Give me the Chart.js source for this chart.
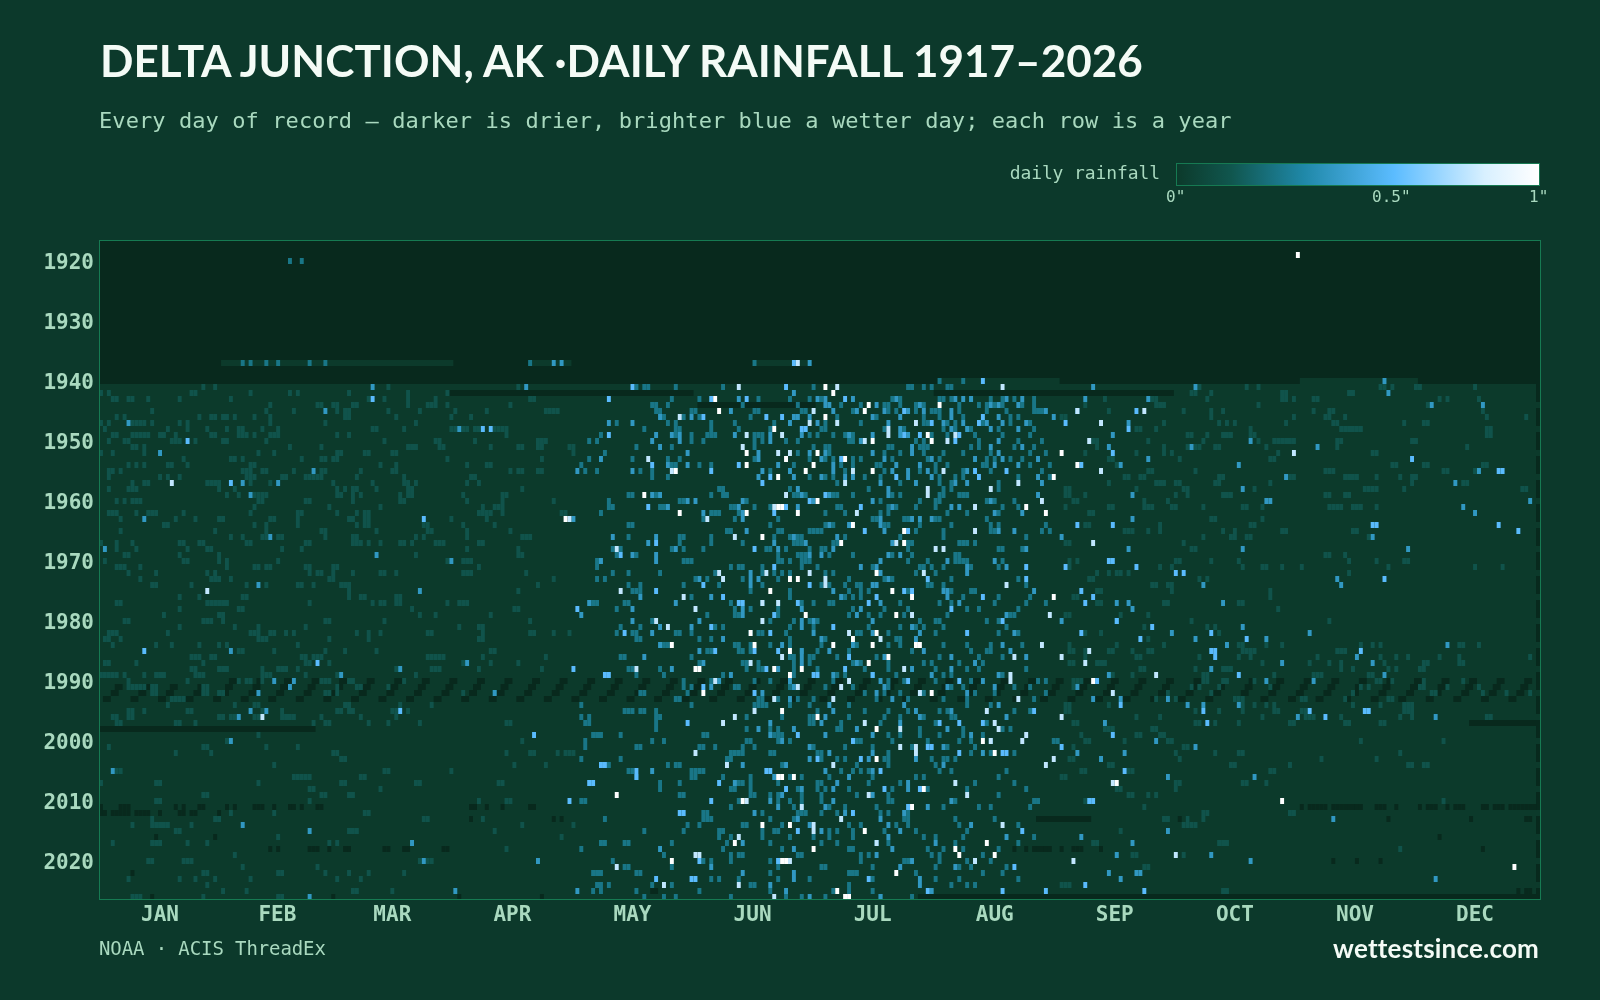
<!DOCTYPE html>
<html>
<head>
<meta charset="utf-8">
<title>Delta Junction daily rainfall</title>
<script src="https://cdn.jsdelivr.net/npm/chart.js@4/dist/chart.umd.js"></script>
<style>
  html, body { margin: 0; background: #0c392b; }
  #page { position: relative; width: 1600px; height: 1000px; overflow: hidden; }
  #page canvas { position: absolute; left: 0; top: 0; }
  .txt { position: absolute; white-space: pre; line-height: 1; }
  .mono { font-family: "DejaVu Sans Mono", monospace; color: #a9d9bf; }
  .brand { font-family: Lato, sans-serif; font-weight: 700; color: #f4fbf6; }
  #ramp { position: absolute; left: 1176px; top: 163px; width: 362px; height: 21px; border: 1px solid #167a52; }
</style>
</head>
<body>
<div id="page">
  <canvas id="chart" width="1600" height="1000"></canvas>
  <div class="txt brand" style="left:100px;top:38px;font-size:44px;letter-spacing:0.03px">DELTA JUNCTION, AK ·DAILY RAINFALL 1917–2026</div>
  <div class="txt mono" style="left:99px;top:110px;font-size:22px;letter-spacing:0.08px">Every day of record — darker is drier, brighter blue a wetter day; each row is a year</div>
  <div class="txt mono" style="right:440px;top:164px;font-size:18px;letter-spacing:-0.1px">daily rainfall</div>
  <div id="ramp"></div>
  <div class="txt mono" style="left:1166px;top:189px;font-size:16px">0"</div>
  <div class="txt mono" style="left:1372px;top:189px;font-size:16px">0.5"</div>
  <div class="txt mono" style="left:1529px;top:189px;font-size:16px">1"</div>
  <div class="txt mono" style="left:99px;top:939px;font-size:19px;letter-spacing:-0.1px">NOAA · ACIS ThreadEx</div>
  <div class="txt brand" style="right:61px;top:935px;font-size:26px;letter-spacing:0.2px">wettestsince.com</div>
</div>
<script>
const yearTicks = [1920, 1930, 1940, 1950, 1960, 1970, 1980, 1990, 2000, 2010, 2020];
const monthLabels = ['JAN', 'FEB', 'MAR', 'APR', 'MAY', 'JUN', 'JUL', 'AUG', 'SEP', 'OCT', 'NOV', 'DEC'];
const monthCenters = [15.5, 45.3, 74.5, 105, 135.5, 166, 196.5, 227.5, 258, 288.5, 319, 349.5];

// inches of rain for each colour band
const whiteInches = 1, paleInches = 0.75, skyInches = 0.5, blueInches = 0.32, tealInches = 0.18, dimInches = 0.07;

// parts of each year that have a record: [year, fromDay, toDay]
const recordSpans = [
  [1937,31,90],[1937,109,120],[1937,166,181],[1940,213,244],[1940,305,335],
  [1941,0,365],[1942,0,89],[1942,151,212],[1942,273,365],[1943,0,365],[1944,0,152],[1944,182,366],
  [1945,0,365],[1946,0,365],[1947,0,365],[1948,0,366],[1949,0,365],[1950,0,365],[1951,0,365],[1952,0,366],
  [1953,0,365],[1954,0,365],[1955,0,365],[1956,0,366],[1957,0,365],[1958,0,365],[1959,0,365],[1960,0,366],
  [1961,0,365],[1962,0,365],[1963,0,365],[1964,0,366],[1965,0,365],[1966,0,365],[1967,0,365],[1968,0,366],
  [1969,0,365],[1970,0,365],[1971,0,365],[1972,0,366],[1973,0,365],[1974,0,365],[1975,0,365],[1976,0,366],
  [1977,0,365],[1978,0,365],[1979,0,365],[1980,0,366],[1981,0,365],[1982,0,365],[1983,0,365],[1984,0,366],
  [1985,0,365],[1986,0,365],[1987,0,365],[1988,0,366],[1989,0,365],[1990,0,365],[1991,0,365],[1992,0,366],
  [1993,0,365],[1994,0,365],[1995,0,365],[1996,0,366],[1997,0,348],[1998,55,365],[1999,0,365],[2000,0,366],
  [2001,0,365],[2002,0,365],[2003,0,365],[2004,0,366],[2005,0,365],[2006,0,365],[2007,0,365],[2008,0,366],
  [2009,0,365],[2010,0,365],[2011,0,365],[2012,0,366],[2013,0,238],[2013,252,365],[2014,0,365],[2015,0,365],[2016,0,366],
  [2017,0,365],[2018,0,365],[2019,0,365],[2020,0,366],[2021,0,365],[2022,0,365],[2023,0,365],[2024,0,366],
  [2025,0,365],[2026,0,208]
];

// two-day holes that repeat through the early nineties
const weeklyGaps = [
  [1990,33,40,47,54,61,68,75,82,89,96,103,110,117,124,131,138,145,152,159,166,173,180,187,194,201,208,215,222,229,236,243,250,257,264,271,278,285,292,299,306,313,320,327,334,341,348,355,362],
  [1991,4,11,18,25,32,39,46,53,60,67,74,81,88,95,102,109,116,123,130,137,144,151,158,165,172,179,186,193,200,207,214,221,228,235,242,249,256,263,270,277,284,291,298,305,312,319,326,333,340,347,354,361],
  [1992,3,10,17,24,31,38,45,52,59,66,73,80,87,94,101,108,115,122,129,136,143,150,157,164,171,178,185,192,199,206,213,220,227,234,241,248,255,262,269,276,283,290,297,304,311,318,325,332,339,346,353,360],
  [1993,1,8,15,22,29,36,43,50,57,64,71,78,85,92,99,106,113,120,127,134,141,148,155,162,169,176,183,190,197,204,211,218,225,232,239,246,253,260,267,274,281,288,295,302,309,316,323,330,337,344,351,358]
];

// single missing days scattered through later years
const missingDays = [
  [2011,0,5,6,7,19,21,25,26,32,34,39,40,41,44,48,49,51,55,56,94,95,98,102,109,110,305,307,308,309,310,311,313,314,315,316,317,318,319,320,324,325,326,329,335,337,338,339,342,344,345,346,351,352,354,355,356,358,359,360,361,362,363,364],
  [2012,0,1,3,4,5,6,7,9,10,11,12,15,20,21,23,24,30],
  [2013,94,115,117,274,276,327,348,362,363],
  [2016,14,29,340],
  [2018,43,45,53,54,55,58,62,63,72,73,77,78,87,88,232,235,237,238,239,240,241,244,247,248,249,254,351],
  [2020,313,319,325],
  [2022,8],
  [2025,140,141,360,362,363],
  [2026,13,59,91,112]
];

const whiteRows = [
  [1919,304],[1941,184],[1942,186],[1943,156],[1944,195,213],[1945,157,194],[1946,184],[1948,171],[1949,210],[1950,196,211],
  [1952,164,182,244],[1953,174,189],[1954,164,181,248],[1955,146,179,196],[1956,172,242],[1959,138],[1960,182],[1961,172,173,235],
  [1962,147,164,177,240],[1963,118],[1964,191],[1965,204],[1966,168],[1967,188,204],[1972,197],[1973,175,177],[1975,170,201],
  [1976,206,242],[1979,179,202],[1982,165,197],[1983,191],[1984,145,166,186,196,207,208],[1985,175],[1986,200],[1987,195],
  [1988,151,152,171,178],[1989,175],[1990,252],[1992,153,211],[1995,173],[1996,182],[1998,197],[2000,224],[2002,227],[2003,197],
  [2006,172,173,176],[2007,258],[2008,209],[2009,131],[2010,163,300],[2011,206],[2014,168,175],[2015,194],[2017,161,225],
  [2018,181,217],[2019,218,227],[2020,145,173,174],[2021,359],[2022,202],[2025,187],[2026,189,190]
];
const paleRows = [
  [1937,177],[1941,162,187,229],[1945,181,248,265],[1946,147],[1947,180,187,207,254],[1948,200],[1949,164,173,200,217],[1950,194,215,251],
  [1951,163],[1952,172,175,303],[1953,139],[1955,145,191,214,254],[1957,18,189,233],[1958,210,226],[1959,174,210],[1960,239],[1961,171,222],
  [1962,192],[1963,119,154],[1965,222],[1966,161],[1967,202,252],[1968,131,212,214],[1972,157,169,180,209],[1973,158,184],[1974,184,230],
  [1975,27,132],[1976,148],[1977,168,172],[1978,151],[1979,206,241],[1980,141,168],[1981,144],[1982,190],[1983,198],[1984,239],[1985,251],
  [1986,173,232,244],[1987,165,250],[1988,136,204],[1989,231,268],[1990,156,190,231],[1991,177,188],[1992,208,257],[1993,171,186,233],
  [1995,166,225],[1996,41,161,244],[1997,158,194,227],[1998,203,228],[1999,235],[2000,226,234],[2001,203,207],[2002,151,207],[2003,242],
  [2004,159,186,240],[2007,217,257],[2009,195,220],[2010,164],[2011,178],[2013,188],[2014,181,229],[2015,181],[2016,162],[2017,197],
  [2019,151,152,273],[2020,175,222,247],[2021,131],[2024,143,162],[2026,171]
];
const skyRows = [
  [1937,176],[1940,224],[1941,135,174],[1943,69,129,155,164,189],[1945,204,248,263],[1946,153,169,173,224],[1947,211,223,245],[1948,97,99,178,179,261],
  [1949,129,204,208,218],[1950,22,217],[1952,257],[1953,188,333],[1954,140,162,249],[1955,155,222,230,355,356],[1956,170,202,223],[1957,33,168],
  [1959,184],[1960,180],[1961,139,174,193],[1962,171],[1963,82],[1964,248,257,323,324,355],[1965,194,205,360],[1967,141],[1968,166],[1969,132],
  [1970,256,257],[1971,171,235,245,263],[1972,273,275],[1973,210,235,326],[1974,153,180],[1975,141,204,206,249],[1976,158,197,224,252],
  [1977,162,163,177,195,250],[1978,216,121],[1979,171],[1980,229,258],[1981,155,186,267],[1982,133,170,220,249,282],[1983,264,291],
  [1985,11,156,166,172,282,283,320],[1986,190,283],[1987,55],[1988,120,169,189],[1989,128,129,181,182,196,289],[1990,205,218,253],[1991,153],
  [1992,166],[1994,259],[1995,76,237,321,322,280,307],[1996,311],[1997,149,213,218,224,281],[1999,110,177,257],[2000,191],[2001,210,211,244],
  [2002,229,230,218],[2003,182,193],[2004,127,128],[2005,169,170,136,198,260],[2006,136],[2007,124,125,157],[2008,174,199,208],[2010,119,155,251,252],
  [2011,205],[2012,147,148,191],[2015,177,234],[2020,152,172,222],[2021,232],[2023,141,150,151,195],[2024,250],[2025,210,229,240,265]
];
const blueRows = [
  [1937,115,117,180],[1940,326],[1941,69,108,252,278],[1942,176,327],[1943,162,182,184,191,202,217,219,221,230,234,250,266],[1944,184,185,197,208,226,228,233,338,351],
  [1945,160,186,192,199,205,209,216,240,57],[1946,142,150,176,177,180,196,203,216,228,242],[1947,7,129,135,175,182,200,214,219,225,229,235,261],[1948,91,203,216,220,226,233],
  [1949,141,145,147,161,170,178,190,196,203,205,257],[1950,140,147,170,193,228,292],[1951,142,206,226,234,256,277,309],[1952,15,149,167,180,184,196,206,228],
  [1953,127,167,183,199,211,222,229,238,266],[1954,144,149,172,186,202,208,227,233,259,289],[1955,54,121,135,168,175,186,201,205,210,220,350],[1956,167,176,183,189,191,205,211,238,301],
  [1957,36,45,198,207,217,220,239,344],[1958,177,200,290],[1959,38,140,142,178,185,200,238,262],[1960,149,151,163,181,196,226,296,297,363],[1961,144,162,177,201,216,218,346],
  [1962,153,163,227,234,349],[1963,11,163,198,206,208,211,120,262],[1964,185,190,198],[1965,164,199,228,232],[1966,43,130,141,176,187,244,323],[1967,139,171,179,201],
  [1968,1,146,172,186,235,261,290,332],[1969,70,135,141,180,183,200,203],[1970,89,127,141,198,215,227],[1971,193,197,220,230],[1972,165,198,220],[1973,152,165,167,200,314],
  [1974,40,165,196,197,280,315],[1975,81,186,214,215,237],[1976,137,155,188,215],[1977,124,146,168,198,218,258,261,285],[1978,135,163,178,193,262],[1979,122,163,192,230],
  [1980,135,152,178,181,196,244,258],[1981,142,150,178,206,290],[1982,140,181,196,208,232,272,307],[1983,158,183,207,278,296],[1984,142,173,191,229,286,342],
  [1985,33,152,178,185,209,231],[1986,138,178,199,216,235,319],[1987,93,153,178,192,222,300,323],[1988,76,145,172,206,216,282],[1989,61,160,186,196,211,228,256,326],
  [1990,44,49,157,175,198,224,296,308],[1991,48,155,176,199,215,227,248],[1992,40,100,168,197,208,220],[1993,175,201,252,271,259],[1994,185,204,228,276,280,289],
  [1995,38,42,186,207,216],[1996,35,184,208,230,304,339],[1997,170,183,203,255],[1998,167,176,192,215],[1999,170,184,196,221],[2000,33,173,191,226,268],
  [2001,180,214,278],[2002,185,196,224,248,260],[2003,180,195,207,254],[2004,163,174,214],[2005,3,140,184,196],[2006,171,190,271,293],[2007,161,187,205],
  [2008,178,186,205],[2009,173,196],[2010,170,186,216],[2011,172,184,210],[2012,166,189,204],[2013,177,198,313],[2014,36,180,200,221],[2015,53,183,203,271],
  [2016,200,230,249],[2017,79,163,197,212,262],[2018,142,176,201],[2019,197,258,282],[2020,82,111,172,206,292],[2021,155,203,217],[2022,163,176,256,263,264],
  [2023,176,208,259,339],[2024,170,208],[2025,90,121,174,211],[2026,53,180,198]
];
const tealRows = [
  [1920,48,51],[1937,36,38,42,45,53,57,109,166],[1940,213,219],
  [1941,136,138,139,146,158,181,205,206,209,211,215,216],
  [1943,145,152,167,175,180,183,201,203,213,214,216,221,226,229,232,237],
  [1944,140,141,144,163,177,188,193,199,200,203,207,209,218,223,225,227,229,234,237],
  [1945,141,142,150,151,166,167,178,179,191,200,202,207,211,212,213,218,225,230,237,238,239],
  [1946,143,148,152,165,187,197,209,213,219,231,233],
  [1947,131,144,146,155,161,171,184,193,209,210,215,217,224,231,236],
  [1948,138,146,147,155,162,170,183,184,199,204,214,217,221,228,237],
  [1949,127,146,150,154,155,156,166,167,168,180,182,186,189,191,211,215,222,229,236],
  [1950,124,126,150,153,166,168,174,177,190,191,207,209,223,233,239],
  [1951,136,145,166,181,184,185,200,201,208,209,210,221,223,232,237],
  [1952,128,177,185,199,203,209,214,219,226,236,240],
  [1953,124,135,144,147,166,180,184,186,191,193,201,210,213,225,227,231,234],
  [1954,122,145,146,152,155,176,188,191,197,198,212,215,224,225,236,241],
  [1955,123,126,137,140,170,189,199,208,212,219,226,239],
  [1956,140,144,180,184,186,194,198,213,217,219,233,241],
  [1957,187,203,213,216,228],[1958,157,158,175,195,214,216,228],
  [1959,134,135,141,155,158,159,176,177,179,186,187,191,201,203,213,214,218,219,220],
  [1960,129,147,148,164,198,208,212,213,225,227,232],
  [1961,129,130,142,143,160,161,166,170,187,188,200,202,207,212,229,233],
  [1962,127,155,156,157,162,184,189,198,200,215,220,228],
  [1963,153,161,172,196,197,204,205,212,213,225],
  [1964,134,135,170,184,186,199,200,208,216,226,228,240],
  [1965,159,160,172,173,180,181,182,183,207,214,226,227,239,241],
  [1966,134,147,148,155,171,175,177,178,189,203,214,235],
  [1967,147,155,163,176,177,178,186,187,205,206,218,219,220,222],
  [1968,130,132,145,148,153,169,170,174,180,183,184,205,228,229,234],
  [1969,131,136,172,177,178,179,185,191,201,206,217,218],
  [1970,126,148,149,150,172,173,175,178,179,180,205,210,217,218,219,220,229],
  [1971,126,160,162,163,168,178,182,196,208,209,211,214,221,228],
  [1972,130,134,142,156,168,171,173,175,184,186,207,212],
  [1973,126,128,151,154,163,172,190,199,201,216,233],
  [1974,134,137,148,157,168,183,185,189,192,193,210,211,214,235],
  [1975,135,136,137,165,175,190,193,195,205,216,221,222],
  [1976,150,175,189,191,193,219,228,236],
  [1977,125,126,133,134,160,172,178,181,185,186,203,213,216,227,235,240],
  [1978,131,161,165,172,191,199,205,220,223,233],
  [1979,154,161,162,172,190,195,198,204,215,231,232],
  [1980,140,170,176,180,182,208,212,213,225,228],
  [1981,132,137,156,158,175,181,195,203,207,209,214,230],
  [1982,131,135,136,146,147,150,165,167,168,174,192,193,200,212,228,233],
  [1983,136,137,152,155,175,184,202,203],
  [1984,143,144,161,162,165,170,175,183,192,200,203,214,220,226,234],
  [1985,154,155,162,163,165,178,182,190,206,221,225,226],
  [1986,132,133,150,175,176,180,181,187,197,213,223,229],
  [1987,152,163,164,167,176,180,191,193,200,209,211,218,224],
  [1988,134,135,142,164,167,168,176,182,194,200,212,220,223,235],
  [1989,136,143,158,176,187,189,202,214,216,229],
  [1990,148,155,166,170,186,200,204,212,221,238,240],
  [1991,148,150,161,162,175,184,191,200,216,219,232,236],
  [1992,137,138,149,194,199,203,209,222,227,240],
  [1993,146,147,167,168,172,177,181,197,205,214,220,237],
  [1994,122,150,166,167,168,169,175,180,190,220,226],
  [1995,133,134,135,137,138,141,182,194,200,205,213,215,232,236],
  [1996,122,124,141,142,164,173,180,181,190,199,203,209,216,217],
  [1997,123,124,141,180,181,188,198,212,225],
  [1998,141,164,170,172,187,188,208,219,229,231],
  [1999,125,126,127,132,153,154,171,172,173,200,203,208,213,219,224],
  [2000,123,140,143,164,165,172,175,192,193,201,210,218,221,242,243],
  [2001,123,136,137,152,153,156,163,166,181,189,196,206,215,222],
  [2002,160,161,162,163,170,171,182,183,200,221,226,232],
  [2003,122,132,159,160,183,187,189,199,200,211,214,215,217],
  [2004,129,144,146,147,173,192,200,212],
  [2005,134,135,150,151,152,153,188,191,193,195,213,216,230],
  [2006,136,150,151,158,165,175,178,185,196,207,209,228],
  [2007,142,147,161,162,163,165,172,182,183,195,203,222,232],
  [2008,142,160,161,165,177,182,184,190,201,210,220,235],
  [2009,147,148,165,166,170,172,178,183,192,200,228],
  [2010,122,123,162,172,175,178,183,200,201,217,237,238],
  [2011,160,176,178,185,189,197,214,223,226,236],
  [2012,153,154,168,177,178,179,183,187,198,200,205],
  [2013,128,153,154,155,170,176,204,205,217,227],
  [2014,149,152,163,164,173,190,193,202,205,218,233],
  [2015,138,148,157,158,168,171,172,185,187,191,199,207,220],
  [2016,157,160,168,175,181,185,191,209,212,219,237],
  [2017,127,128,133,134,145,159,170,183,187,200,217,233],
  [2018,122,158,173,190,191,210,214,219,228],
  [2019,143,160,162,163,177,178,193,195,211,213,224],
  [2020,130,153,155,160,170,193,204,205,213,220,226],
  [2021,133,134,145,172,183,184,196,212,218,221,230],
  [2022,125,126,127,136,137,170,190,191,192,207,224,229],
  [2023,155,157,162,172,180,196,212,218,233],
  [2024,126,127,129,140,145,165,166,190,216,220,222],
  [2025,125,127,136,152,170,186,190,196],
  [2026,138,143,146,160,174,178,184,198,206]
];
// light days, January to April
const dimSpring = [
  [1941,26,29,73,106],[1942,0,2,23,24,38,48,50,63,78,88],[1943,3,4,7,8,12,20,33,68,72,78,85,109,110],[1944,43,55,56,59,60,64,65,78,83,84,85,88,104],
  [1945,13,42,49,60,62,63,73,81,90,98,113,114,115,116],[1946,4,6,25,28,29,31,32,34,39,43,62,63,75,89,94],[1947,0,2,8,9,10,11,13,20,22,43,57,80],
  [1948,1,17,22,27,32,35,36,41,45,69,70,77,89,90,92,93,95,96,100,101,102,103],[1949,3,4,8,9,10,11,12,15,16,19,28,29,35,36,37,39,43,44,45,60,63,103],
  [1950,2,6,7,18,19,20,24,31,32,42,72,85,86,95,111,112,113],[1951,8,9,11,48,56,78,79,80,86,87,99,106,107,111,112,119,120],[1952,0,3,11,40,44,60,61,67,68,74,75,120],
  [1953,21,33,34,36,51,56,57,59,60,88,112],[1954,7,9,11,17,18,22,38,39,71,75,93,98,99],[1955,2,3,5,36,37,38,41,42,49,56,57,66,74,75,104,106,107,111,112],
  [1956,2,15,17,20,37,38,39,46,47,52,53,54,55,56,65,77,94,95],[1957,8,11,12,27,28,29,30,38,43,59,69,77,78,80,93,96],[1958,2,7,8,9,30,34,60,62,64,65,70,78,79,107],
  [1959,32,35,39,40,41,42,60,61,64,66,76,78,79,92,102,103],[1960,4,6,8,9,10,40,41,52,53,64,76,77,93,102,115],[1961,39,58,71,97,100,101,102],
  [1962,2,3,4,9,12,13,14,21,38,50,51,60,65,67,68,96,97,98,99,102,117,118],[1963,5,19,24,30,31,43,44,50,63,64,67,68,89,98],[1964,16,17,39,42,50,65,67,68,82,83,92,100],
  [1965,5,29,42,56,57,70,83,84,93,104],[1966,33,36,41,42,45,46,57,64,65,80,82,93,107,108,109],[1967,0,4,8,20,21,25,26,37,38,52,53,64,65,66,68,71,76,77,79,85,86,87,96,97],
  [1968,4,9,22,27,28,46,51,93,106],[1969,6,7,20,30,80,106,107],[1970,1,21,22,30,32,45,88,92,93,94],[1971,4,5,6,10,32,39,40,42,43,52,53,59,60,96],
  [1972,7,14,27,29,53,55,56,59,64,71,72,75,92,93,94,108],[1973,10,28,29,30,33,58,59,115],[1974,13,14,23,37,42,50,51,54,61,62,63,111],[1975,63,106],[1976,20,25,36,37,63,66,67,75,76],
  [1977,4,5,27,28,29,30,31,32,53,69,71,72,75,76,88,91,92,93],[1978,20,35,36,79,105,106],[1979,16,30,31,81,85,99],[1980,6,7,26,27,28,31,57,58,72,109],[1981,20,34,40,52,91,96,97],
  [1982,2,3,4,17,38,39,40,43,44,47,49,65,68,71,83,84,97,109,110,115,119],[1983,1,2,5,40,41,42,58,68,96,97],[1984,3,14,18,25,30,32,50],[1985,35,36,44,57,62,70,99,100],
  [1986,23,24,25,28,29,51,52,54,55,56,83,84,85,86,87,97,113],[1987,1,2,9,26,52,53,58,92,99,106],[1988,23,24,30,31,32,41,45,46,47,50,75,84,85,86,96,112],
  [1989,0,1,2,3,4,6,11,14,15,16,24,25,26,41,42,43,52,60,80],[1990,7,22,35,37,38,41,56,57,58,63,64,77],[1991,7,8,9,10,11,13,14,26,27,60,65,66,73],[1992,13,14,26,27,30,31,57,58,60,92,100],
  [1993,18,19,20,21],[1994,17,34,39,40,62,63,76,84],[1995,7,8,11,22,23,41,46,60,61,63,64,74,75,78],[1996,3,4,7,8,30,31,33,34,39,40,46,47,48,49,56,66,75],
  [1997,4,5,19,20,24,54,57,58,68,73,81,103,104],[1999,40],[2000,32,107],[2001,2,26,27,42,50],[2002,19,28,59,60,103,109,110,116,118,119,120],[2003,61,62],[2004,44,105,113],
  [2005,4,5,72,73,89],[2006,49,50,51,52,53,66,67],[2007,0,14,15,40,61,62,80,81,101,102],[2008,53,54,71],[2009,26,27,56,57,63,64],[2010,14,15,53,96,103,104],[2012,33,44,67,68],
  [2013,13,29,30,82,83,97],[2014,8,13,14,15,16,17,23,107,120],[2015,19,20,63,64,65,100],[2016,45,117],[2017,3,13,14,15,22,27,58,60],[2018,103],[2019,34],[2020,12,13,21,22,23,81,83,84],
  [2021,36,55],[2022,26,27,45,46,57,63,68,77],[2023,7,20,24,29,38,60,66],[2024,27],[2025,31,37,64,65,74],[2026,8,9,10,26,45,46]
];
// light days, September to December
const dimAutumn = [
  [1941,279,291,294,325,326,328,334,335,349],[1942,277,278,282,300,301,317,318],[1943,255,267,268,281,300,301,303,308,309,340,342,350],[1944,250,268,269,270,294,337],
  [1945,256,275,282,285,308,312,313,351],[1946,244,245,282,303,311,312,316,352,362],[1947,270,284,286,288,301,313,314,331,336,337],[1948,263,264,268,292,315,316,317,318,319,320,352,353],
  [1949,276,277,281,285,286,287,292,293,352,353],[1950,252,253,266,280,294,298,299,300,301,302,303,314,315,333,334],[1951,253,270,276,278,279,283,284,296,314,347],
  [1952,250,263,270,272,299,323,324],[1953,256,257,274,297,298],[1954,258,328,329,336,337,351,352],[1955,266,267,278,311,312,313,341,342,349],
  [1956,260,261,264,265,284,285,302,303,316,317,318,319,324,330,333,334],[1957,256,268,269,270,273,274,283,284,297,333,346,347],[1958,245,246,263,275,276,293,321,322,323,324,331,361,362],
  [1959,245,246,250,273,276,285,286,287,311,312,316,317],[1960,247,248,265,271],[1961,245,256,257,265,266,267,272,273,280,290,291,295,312,313,314,315,318,319,320,324],
  [1962,251,252],[1963,282,283,295],[1964,250,251,269,292,293],[1965,260,261,262,266,269,285,288,300,301,318,319],[1966,280,287,288,291,292,322],[1967,245,246,275],[1968,277,278],
  [1969,311,312,316],[1970,246,248,273,274,282,289,317,324,331,332],[1971,246,269,272,290,295,296,300,305,327,349,356],[1972,253,256,258,259,261,317],[1973,251,252,279,281],
  [1974,267,268,271,272],[1975,253,254,272,297],[1976,247,248,297],[1977,253,254,270,271,289,290],[1978,299],[1979,245,246,259,266],[1980,277,312],[1981,265,281,283],[1982,250,254,284],[1983,266],
  [1984,246,258,270,289,290,296,300,320,323,325,345,346,350],[1985,246,247,250,256,257,262,266,267,290,291,292,293,314,315,316],[1986,250,263,264,279,289,292,309,325,329,332,340,345,363],
  [1987,246,247,253,254,255,295,307,312,315,326,336,337,345,346],[1988,264,265,278,285,286,287,315,318,327,329,335,336],[1989,256,257,262,280,281,298,308,309,310,322,323],
  [1990,247,248,249,280,281,285,286,293,324,325,328,336,346],[1991,247,277,279,284,297,320,322,335,336,342,350],[1992,271,282,318,338,339,351,357,363],
  [1993,268,273,288,289,290,305,306,316,327,328],[1994,245,246,256,290,293,296,298,318,325,331,332,333],[1995,245,246,278,284,290,298,299,305,306,331,332,333],
  [1996,263,269,295,306,307,308,315,330,333,352,353],[1997,247,248,278,279,283,289,302,303,316,317,325,326],[1998,255,256,257,267,268],[1999,249,263,264,269,270],
  [2000,250,251,260,271,272,320,341],[2001,247,275,276],[2002,273,283,289,290,330],[2003,246,247,274,310,324],[2004,256,257,287,288,302,332,333,336,337],[2005,249,250,261,262,297,298],
  [2006,244,245],[2007,273,274,290,291,296],[2008,258,259,273],[2009,261,262,266,268],[2010,250,341],[2011,265],[2012,280,281,302,303],[2013,270,271,276,280],[2014,275,276,277,278],[2015,259],
  [2017,252,253,284,285,286],[2018,330],[2019,258,262,263,275],[2021,265,266],[2024,244,245,246],[2025,285,286]
];

// colour ramp shared by the cells and the legend bar
const rampStops = [
  [0, [12, 58, 43]], [0.15, [16, 86, 78]], [0.35, [31, 136, 168]], [0.6, [91, 188, 255]], [0.85, [216, 240, 255]], [1, [255, 255, 255]]
];

function rampColor(inches) {
  const t = Math.pow(inches, 0.75);
  for (let i = 1; i < rampStops.length; i++) {
    const [t0, c0] = rampStops[i - 1];
    const [t1, c1] = rampStops[i];
    if (t <= t1) {
      const k = (t - t0) / (t1 - t0);
      const c = c0.map((v, n) => Math.round(v + (c1[n] - v) * k));
      return `rgb(${c[0]},${c[1]},${c[2]})`;
    }
  }
  return '#fff';
}

document.getElementById('ramp').style.background = 'linear-gradient(to right,' +
  rampStops.map(s => `rgb(${s[1].join(',')}) ${s[0] * 100}%`).join(',') + ')';

// each row is [year, day, day, ...]
const cells = (rows, width = 1) =>
  rows.flatMap(([year, ...days]) => days.map(d => ({ y: year, x: [d, d + width] })));

const band = (label, data, color) => ({ label, data, backgroundColor: color });

const textColor = '#a9d9bf';
const frameColor = '#167a52';
const missingColor = '#08291d';

const plotFrame = {
  id: 'plotFrame',
  beforeDatasetsDraw(chart) {
    const { ctx, chartArea: a } = chart;
    ctx.fillStyle = missingColor;
    ctx.fillRect(a.left, a.top, a.width, a.height);
  },
  afterDraw(chart) {
    const { ctx, chartArea: a } = chart;
    ctx.strokeStyle = frameColor;
    ctx.lineWidth = 1;
    ctx.strokeRect(a.left + 0.5, a.top + 0.5, a.width, a.height - 1);
  }
};

new Chart(document.getElementById('chart'), {
  type: 'bar',
  data: {
    // Chart.js paints the first dataset last, so the brightest band goes first
    datasets: [
      band('white', cells(whiteRows), rampColor(whiteInches)),
      band('pale', cells(paleRows), rampColor(paleInches)),
      band('sky', cells(skyRows), rampColor(skyInches)),
      band('blue', cells(blueRows), rampColor(blueInches)),
      band('teal', cells(tealRows), rampColor(tealInches)),
      band('dim autumn', cells(dimAutumn), rampColor(dimInches)),
      band('dim spring', cells(dimSpring), rampColor(dimInches)),
      band('missing', cells(missingDays), missingColor),
      band('weekly gaps', cells(weeklyGaps, 2), missingColor),
      band('record', recordSpans.map(([y, from, to]) => ({ y, x: [from, to] })), rampColor(0))
    ]
  },
  options: {
    indexAxis: 'y',
    responsive: false,
    animation: false,
    events: [],
    layout: { padding: { top: 240, right: 60, bottom: 0, left: 0 } },
    datasets: { bar: { barThickness: 6, grouped: false, borderWidth: 0, inflateAmount: 0 } },
    scales: {
      x: {
        type: 'linear',
        min: 0,
        max: 366,
        grid: { display: false, drawTicks: false },
        border: { display: false },
        afterFit: s => { s.height = 100; },
        afterBuildTicks: s => { s.ticks = monthCenters.map(value => ({ value })); },
        ticks: {
          autoSkip: false,
          maxRotation: 0,
          padding: 3,
          color: textColor,
          font: { family: '"DejaVu Sans Mono"', size: 21, weight: 'bold' },
          callback: (v, i) => monthLabels[i]
        }
      },
      y: {
        type: 'linear',
        offset: false,
        min: 1916.5,
        max: 2026.5,
        reverse: true,
        grid: { display: false, drawTicks: false },
        border: { display: false },
        afterFit: s => { s.width = 99; },
        afterBuildTicks: s => { s.ticks = yearTicks.map(value => ({ value })); },
        ticks: {
          autoSkip: false,
          padding: 5,
          labelOffset: 3,
          color: textColor,
          font: { family: '"DejaVu Sans Mono"', size: 21, weight: 'bold' },
          callback: v => String(v)
        }
      }
    },
    plugins: { legend: { display: false }, tooltip: { enabled: false }, title: { display: false } }
  },
  plugins: [plotFrame]
});
</script>
</body>
</html>
